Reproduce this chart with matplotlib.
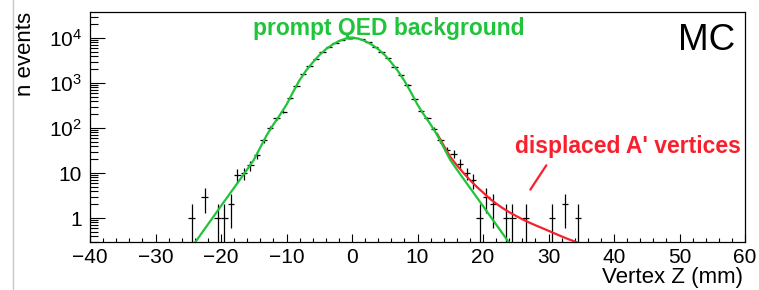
import numpy as np
import matplotlib
matplotlib.use('Agg')
import matplotlib.pyplot as plt
from matplotlib.ticker import FixedLocator, FixedFormatter, MultipleLocator, LogLocator, NullFormatter
from matplotlib.lines import Line2D

plt.rcParams['font.family'] = ['Liberation Sans', 'DejaVu Sans']
plt.rcParams['mathtext.fontset'] = 'custom'
plt.rcParams['mathtext.rm'] = 'Liberation Sans'

GREEN = '#1fc43a'
RED = '#f7202c'

# histogram: 1 mm bins, first bin centred at -24.5 mm
first_center = -24.5
counts = [1, 0, 3, 0, 1, 1, 2, 9, 10, 15,
          25, 54, 100, 164, 230, 458, 860, 1560, 2330, 3450,
          5000, 6300, 7900, 9200, 10000, 9900, 9300, 8100, 6300, 5000,
          3550, 2300, 1500, 905, 440, 240, 164, 95, 54, 32,
          27, 16, 10, 7, 1, 3, 2, 0, 1, 1,
          0, 1, 0, 0, 0, 1, 0, 2, 0, 1]

# prompt QED fit curve
green_z = [-24, -23, -22, -21, -20, -19, -18, -17, -16, -15, -14, -13, -12,
           -11, -10, -9, -8, -7, -6, -5, -4, -3, -2, -1, 0,
           1, 2, 3, 4, 5, 6, 7, 8, 9, 10, 11, 12,
           13, 14, 15, 16, 17, 18, 19, 20, 21, 22, 23, 24]
green_n = [0.28, 0.45, 0.72, 1.15, 1.85, 2.95, 4.7, 7.5, 12, 19.5, 37, 70, 120,
           195, 330, 630, 1160, 1900, 2850, 4150, 5600, 7100, 8550, 9650, 10300,
           9650, 8550, 7150, 5650, 4200, 2850, 1850, 1120, 620, 330, 195, 120,
           70, 37, 19.5, 12, 7.5, 4.7, 2.95, 1.85, 1.15, 0.72, 0.45, 0.28]

# displaced A' vertices curve
red_z = [13, 14, 15, 16, 17, 18, 19, 20, 21, 22, 23, 24,
         25, 26, 27, 28, 29, 30, 31, 32, 33, 34, 35]
red_n = [74, 40.8, 22.8, 14.9, 10.1, 7.0, 5.0, 3.7, 2.7, 2.1, 1.66, 1.35,
         1.12, 0.94, 0.80, 0.69, 0.60, 0.52, 0.45, 0.39, 0.34, 0.30, 0.265]

ytick_vals = [1, 10, 100, 1000, 10000]
ytick_labels = ['1', '10', r'$\mathregular{10^{2}}$', r'$\mathregular{10^{3}}$', r'$\mathregular{10^{4}}$']

fig = plt.figure(figsize=(7.59, 2.90), dpi=100)
ax = fig.add_axes([90 / 759, 48 / 290, 655 / 759, 230 / 290])

n = np.array(counts, dtype=float)
z = first_center + np.arange(len(n))
m = n > 0
err = np.sqrt(n[m])
lower = n[m] - np.maximum(n[m] - err, 0.05)
ax.errorbar(z[m], n[m], xerr=0.5, yerr=[lower, err], fmt='none',
            ecolor='black', elinewidth=0.9, capsize=0, zorder=2)

ax.plot(red_z, red_n, color=RED, lw=1.6, zorder=3)
ax.plot(green_z, green_n, color=GREEN, lw=1.6, zorder=4)

ax.set_yscale('log')
ax.set_xlim(-40, 60)
ax.set_ylim(0.293, 37800)

ax.xaxis.set_major_locator(MultipleLocator(10))
ax.xaxis.set_minor_locator(MultipleLocator(2))
ax.yaxis.set_major_locator(FixedLocator(ytick_vals))
ax.yaxis.set_major_formatter(FixedFormatter(ytick_labels))
ax.yaxis.set_minor_locator(LogLocator(base=10, subs=np.arange(2, 10)))
ax.yaxis.set_minor_formatter(NullFormatter())

ax.tick_params(which='both', direction='in', top=False, right=False, labelsize=15, width=0.8)
ax.xaxis.set_tick_params(which='major', length=6, pad=4)
ax.xaxis.set_tick_params(which='minor', length=3)
ax.yaxis.set_tick_params(which='major', length=11, pad=6)
ax.yaxis.set_tick_params(which='minor', length=6)
for s in ax.spines.values():
    s.set_linewidth(0.9)

fig.text(25.5 / 759, 1 - 12 / 290, 'n events', rotation=90, ha='center', va='top', fontsize=16)
fig.text(743 / 759, 7 / 290, 'Vertex Z (mm)', ha='right', va='baseline', fontsize=16)

fig.text(253 / 759, 1 - 35 / 290, 'prompt QED background', color=GREEN,
         fontsize=16.5, fontweight='bold', va='baseline')
fig.text(515 / 759, 1 - 153 / 290, "displaced A' vertices", color=RED,
         fontsize=16.5, fontweight='bold', va='baseline')
fig.text(678 / 759, 1 - 50 / 290, 'MC', fontsize=26.5, va='baseline')

ax.annotate('', xy=(27.0, 3.8), xytext=(29.9, 16.7),
            arrowprops=dict(arrowstyle='-', color=RED, lw=1.6))

fig.add_artist(Line2D([12.7 / 759, 12.7 / 759], [0, 1], transform=fig.transFigure,
                      color='#c8c8c8', lw=1))

fig.savefig('out.png', dpi=100)
